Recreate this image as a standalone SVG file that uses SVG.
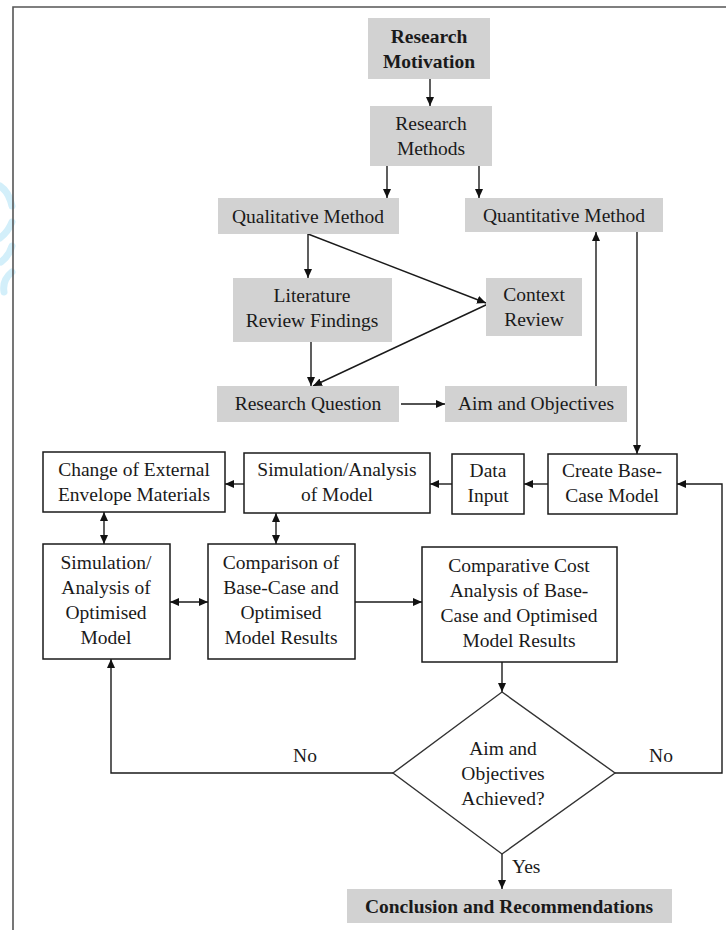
<svg xmlns="http://www.w3.org/2000/svg" width="726" height="930" viewBox="0 0 726 930">
  <style>
    .t{font-family:"Liberation Serif","Times New Roman",serif;font-size:19.5px;fill:#1a1a1a;text-anchor:middle}
    .b{font-weight:bold}
    .g{fill:#d2d2d2;stroke:none}
    .w{fill:#ffffff;stroke:#1a1a1a;stroke-width:1.5}
    .c{fill:none;stroke:#1a1a1a;stroke-width:1.4}
  </style>
  <defs>
    <marker id="ah" viewBox="0 0 9 8" refX="9" refY="4" markerWidth="9" markerHeight="8" markerUnits="userSpaceOnUse" orient="auto-start-reverse">
      <path d="M0,0 L9,4 L0,8 z" fill="#111"/>
    </marker>
  </defs>
  <rect x="0" y="0" width="726" height="930" fill="#ffffff"/>
  <g id="watermark" fill="none" stroke="#d3effa" stroke-width="7" stroke-linecap="round">
    <path d="M0,186 Q9,192 12,206"/>
    <path d="M0,238 Q8,232 12,222"/>
    <path d="M1,262 Q9,256 12,246"/>
    <path d="M4,292 Q2,280 12,272"/>
  </g>
  <g id="frame" stroke="#555" stroke-width="1.6" fill="none">
    <path d="M13,930 L13,7 L726,7"/>
  </g>

  <g id="connectors">
    <line class="c" x1="430" y1="79" x2="430" y2="106" marker-end="url(#ah)"/>
    <line class="c" x1="387" y1="166" x2="387" y2="198" marker-end="url(#ah)"/>
    <line class="c" x1="479" y1="166" x2="479" y2="198" marker-end="url(#ah)"/>
    <line class="c" x1="308" y1="234" x2="308" y2="278" marker-end="url(#ah)"/>
    <line class="c" x1="308" y1="234" x2="486" y2="303" marker-end="url(#ah)"/>
    <line class="c" x1="311" y1="342" x2="311" y2="386" marker-end="url(#ah)"/>
    <line class="c" x1="488" y1="304" x2="313" y2="386" marker-end="url(#ah)"/>
    <line class="c" x1="401" y1="404" x2="445" y2="404" marker-end="url(#ah)"/>
    <line class="c" x1="596" y1="386" x2="596" y2="232" marker-end="url(#ah)"/>
    <line class="c" x1="637" y1="232" x2="637" y2="454" marker-end="url(#ah)"/>
    <line class="c" x1="548" y1="484" x2="524" y2="484" marker-end="url(#ah)"/>
    <line class="c" x1="452" y1="484" x2="430" y2="484" marker-end="url(#ah)"/>
    <line class="c" x1="244" y1="484" x2="225" y2="484" marker-end="url(#ah)"/>
    <line class="c" x1="104" y1="512" x2="104" y2="544" marker-start="url(#ah)" marker-end="url(#ah)"/>
    <line class="c" x1="276" y1="513" x2="276" y2="544" marker-start="url(#ah)" marker-end="url(#ah)"/>
    <line class="c" x1="170" y1="602" x2="208" y2="602" marker-start="url(#ah)" marker-end="url(#ah)"/>
    <line class="c" x1="355" y1="602" x2="422" y2="602" marker-end="url(#ah)"/>
    <line class="c" x1="502" y1="662" x2="502" y2="692" marker-end="url(#ah)"/>
    <polyline class="c" points="393,773 111,773 111,659" marker-end="url(#ah)"/>
    <polyline class="c" points="615,773 722,773 722,484 677,484" marker-end="url(#ah)"/>
    <line class="c" x1="502" y1="854" x2="502" y2="889" marker-end="url(#ah)"/>
    <text class="t" x="305" y="762">No</text>
    <text class="t" x="661" y="762">No</text>
    <text class="t" x="512" y="873" style="text-anchor:start">Yes</text>
  </g>

  <g id="research-motivation">
    <rect class="g" x="368" y="18" width="122" height="61"/>
    <text class="t b" x="429" y="43">Research</text>
    <text class="t b" x="429" y="68">Motivation</text>
  </g>
  <g id="research-methods">
    <rect class="g" x="370" y="106" width="122" height="60"/>
    <text class="t" x="431" y="130">Research</text>
    <text class="t" x="431" y="155">Methods</text>
  </g>
  <g id="qualitative-method">
    <rect class="g" x="218" y="198" width="181" height="36"/>
    <text class="t" x="308" y="223">Qualitative Method</text>
  </g>
  <g id="quantitative-method">
    <rect class="g" x="465" y="198" width="198" height="34"/>
    <text class="t" x="564" y="222">Quantitative Method</text>
  </g>
  <g id="literature-review">
    <rect class="g" x="233" y="278" width="159" height="64"/>
    <text class="t" x="312" y="302">Literature</text>
    <text class="t" x="312" y="327">Review Findings</text>
  </g>
  <g id="context-review">
    <rect class="g" x="486" y="278" width="96" height="58"/>
    <text class="t" x="534" y="301">Context</text>
    <text class="t" x="534" y="326">Review</text>
  </g>
  <g id="research-question">
    <rect class="g" x="217" y="386" width="182" height="36"/>
    <text class="t" x="308" y="410">Research Question</text>
  </g>
  <g id="aim-objectives">
    <rect class="g" x="445" y="386" width="182" height="36"/>
    <text class="t" x="536" y="410">Aim and Objectives</text>
  </g>
  <g id="change-envelope">
    <rect class="w" x="43" y="452" width="182" height="60"/>
    <text class="t" x="134" y="476">Change of External</text>
    <text class="t" x="134" y="501">Envelope Materials</text>
  </g>
  <g id="simulation-model">
    <rect class="w" x="244" y="453" width="186" height="60"/>
    <text class="t" x="337" y="476">Simulation/Analysis</text>
    <text class="t" x="337" y="501">of Model</text>
  </g>
  <g id="data-input">
    <rect class="w" x="452" y="454" width="72" height="60"/>
    <text class="t" x="488" y="477">Data</text>
    <text class="t" x="488" y="502">Input</text>
  </g>
  <g id="create-base-case">
    <rect class="w" x="548" y="454" width="129" height="60"/>
    <text class="t" x="612" y="477">Create Base-</text>
    <text class="t" x="612" y="502">Case Model</text>
  </g>
  <g id="simulation-optimised">
    <rect class="w" x="43" y="544" width="127" height="115"/>
    <text class="t" x="106" y="569">Simulation/</text>
    <text class="t" x="106" y="594">Analysis of</text>
    <text class="t" x="106" y="619">Optimised</text>
    <text class="t" x="106" y="644">Model</text>
  </g>
  <g id="comparison">
    <rect class="w" x="208" y="544" width="147" height="115"/>
    <text class="t" x="281" y="569">Comparison of</text>
    <text class="t" x="281" y="594">Base-Case and</text>
    <text class="t" x="281" y="619">Optimised</text>
    <text class="t" x="281" y="644">Model Results</text>
  </g>
  <g id="comparative-cost">
    <rect class="w" x="422" y="547" width="195" height="115"/>
    <text class="t" x="519" y="572">Comparative Cost</text>
    <text class="t" x="519" y="597">Analysis of Base-</text>
    <text class="t" x="519" y="622">Case and Optimised</text>
    <text class="t" x="519" y="647">Model Results</text>
  </g>
  <g id="decision">
    <polygon points="502,692 615,773 502,854 393,773" fill="#ffffff" stroke="#333" stroke-width="1.4"/>
    <text class="t" x="503" y="755">Aim and</text>
    <text class="t" x="503" y="780">Objectives</text>
    <text class="t" x="503" y="805">Achieved?</text>
  </g>
  <g id="conclusion">
    <rect class="g" x="347" y="889" width="325" height="34"/>
    <text class="t b" x="509" y="913">Conclusion and Recommendations</text>
  </g>
</svg>
